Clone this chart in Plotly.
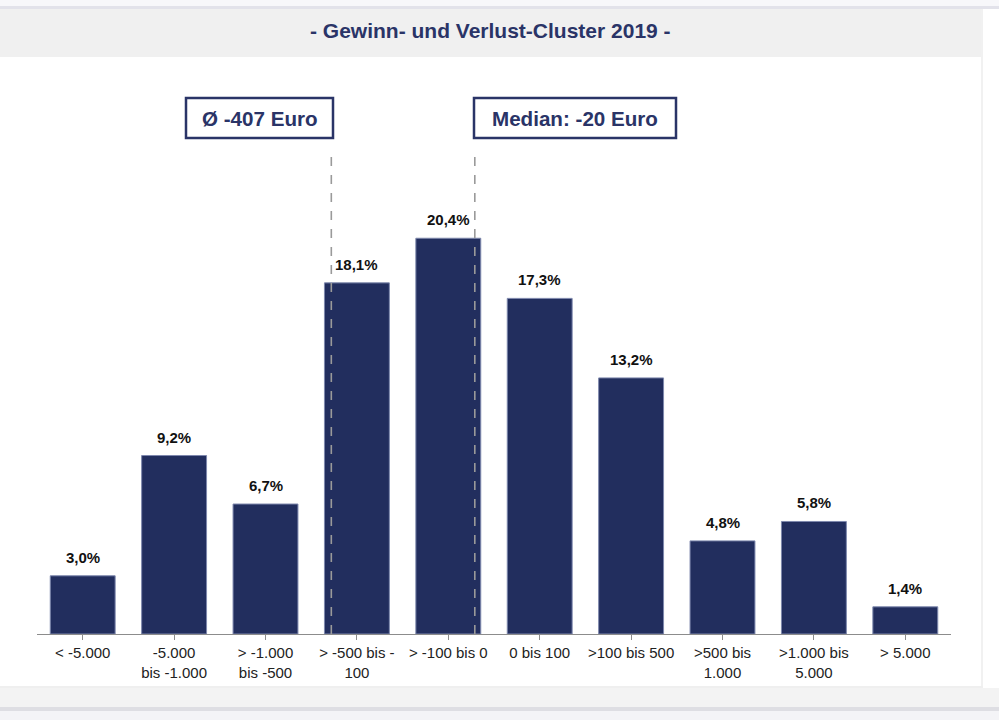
import plotly.graph_objects as go

categories = ["< -5.000", "-5.000<br>bis -1.000", "> -1.000<br>bis -500", "> -500 bis -<br>100",
              "> -100 bis 0", "0 bis 100", ">100 bis 500", ">500 bis<br>1.000", ">1.000 bis<br>5.000", "> 5.000"]
shares = [3.0, 9.2, 6.7, 18.1, 20.4, 17.3, 13.2, 4.8, 5.8, 1.4]
labels = ["3,0%", "9,2%", "6,7%", "18,1%", "20,4%", "17,3%", "13,2%", "4,8%", "5,8%", "1,4%"]
mean_text = "Ø -407 Euro"
median_text = "Median: -20 Euro"
title_text = "- Gewinn- und Verlust-Cluster 2019 -"

W, H = 999, 720
L, R, T, B = 37, 951, 149, 634  # plot area in px

def px(x):
    return (x - L) / (R - L)

def py(y):
    return (B - y) / (B - T)

NAVY = "#222e5e"
TXT = "#2a3467"
FONT = "Liberation Sans, Arial, sans-serif"

fig = go.Figure()
fig.add_trace(go.Bar(
    x=list(range(len(categories))), y=shares,
    marker=dict(color=NAVY, line=dict(color="#7e88ad", width=1)),
    width=0.71, hoverinfo="skip"))

shapes = []
def rect(x0, y0, x1, y1, fill, line=None, lw=0, layer="below"):
    shapes.append(dict(type="rect", xref="paper", yref="paper",
                       x0=px(x0), x1=px(x1), y0=py(y1), y1=py(y0),
                       fillcolor=fill, line=dict(color=line or fill, width=lw), layer=layer))

# page background bands
rect(0, 0, W, 6, "#f7f7fa")
rect(0, 6, W, 9, "#e2e2ea")
rect(0, 9, 981, 57, "#f0f0f0")
rect(981, 9, 983, 687, "#f1f1f1")
rect(0, 686, 983, 688, "#efefef")
rect(0, 688, W, 707, "#f3f3f3")
rect(0, 707, W, 711, "#dedee3")
rect(0, 711, W, H, "#f4f4f7")

# annotation boxes
rect(186, 98, 333, 138, "white", "#2a3467", 2.5, layer="above")
rect(474, 98, 676, 138, "white", "#2a3467", 2.5, layer="above")

# dashed reference lines (mean / median positions on category scale)
for xc in [2.72, 4.29]:
    shapes.append(dict(type="line", xref="x", yref="paper", x0=xc, x1=xc,
                       y0=0, y1=py(150), line=dict(color="#9a9a9a", width=1.6, dash="dash"),
                       layer="above"))

def txt(text, x, y, size, color=TXT):
    return dict(text=text, xref="paper", yref="paper", x=px(x), y=py(y),
                xanchor="center", yanchor="middle", showarrow=False,
                font=dict(family=FONT, size=size, color=color, weight="bold"))

annotations = [
    txt(title_text, 490, 31, 21),
    txt(mean_text, 259.5, 118.5, 20.6),
    txt(median_text, 575, 118.5, 20.6),
]
for i, (v, t) in enumerate(zip(shares, labels)):
    annotations.append(dict(text=t, x=i, y=v, xref="x", yref="y", xanchor="center",
                            yanchor="bottom", yshift=8, showarrow=False,
                            font=dict(family=FONT, size=15, color="#111111", weight="bold")))

fig.update_layout(
    width=W, height=H, margin=dict(l=L, r=W - R, t=T, b=H - B, pad=0),
    paper_bgcolor="white", plot_bgcolor="rgba(0,0,0,0)",
    showlegend=False, shapes=shapes, annotations=annotations,
    bargap=0.29,
    xaxis=dict(tickmode="array", tickvals=list(range(len(categories))), ticktext=categories,
               range=[-0.5, len(categories) - 0.5], showgrid=False, zeroline=False,
               showline=True, linecolor="#8c8c8c", linewidth=1,
               ticks="outside", ticklen=5, tickcolor="#8c8c8c", tickson="boundaries",
               tickfont=dict(family=FONT, size=15, color="#222222"), fixedrange=True),
    yaxis=dict(range=[0, 25], visible=False, showgrid=False, zeroline=False, fixedrange=True),
)
fig.write_html("out.html", config={"displayModeBar": False},
               post_script="document.body.style.margin='0';document.body.style.overflow='hidden';")
